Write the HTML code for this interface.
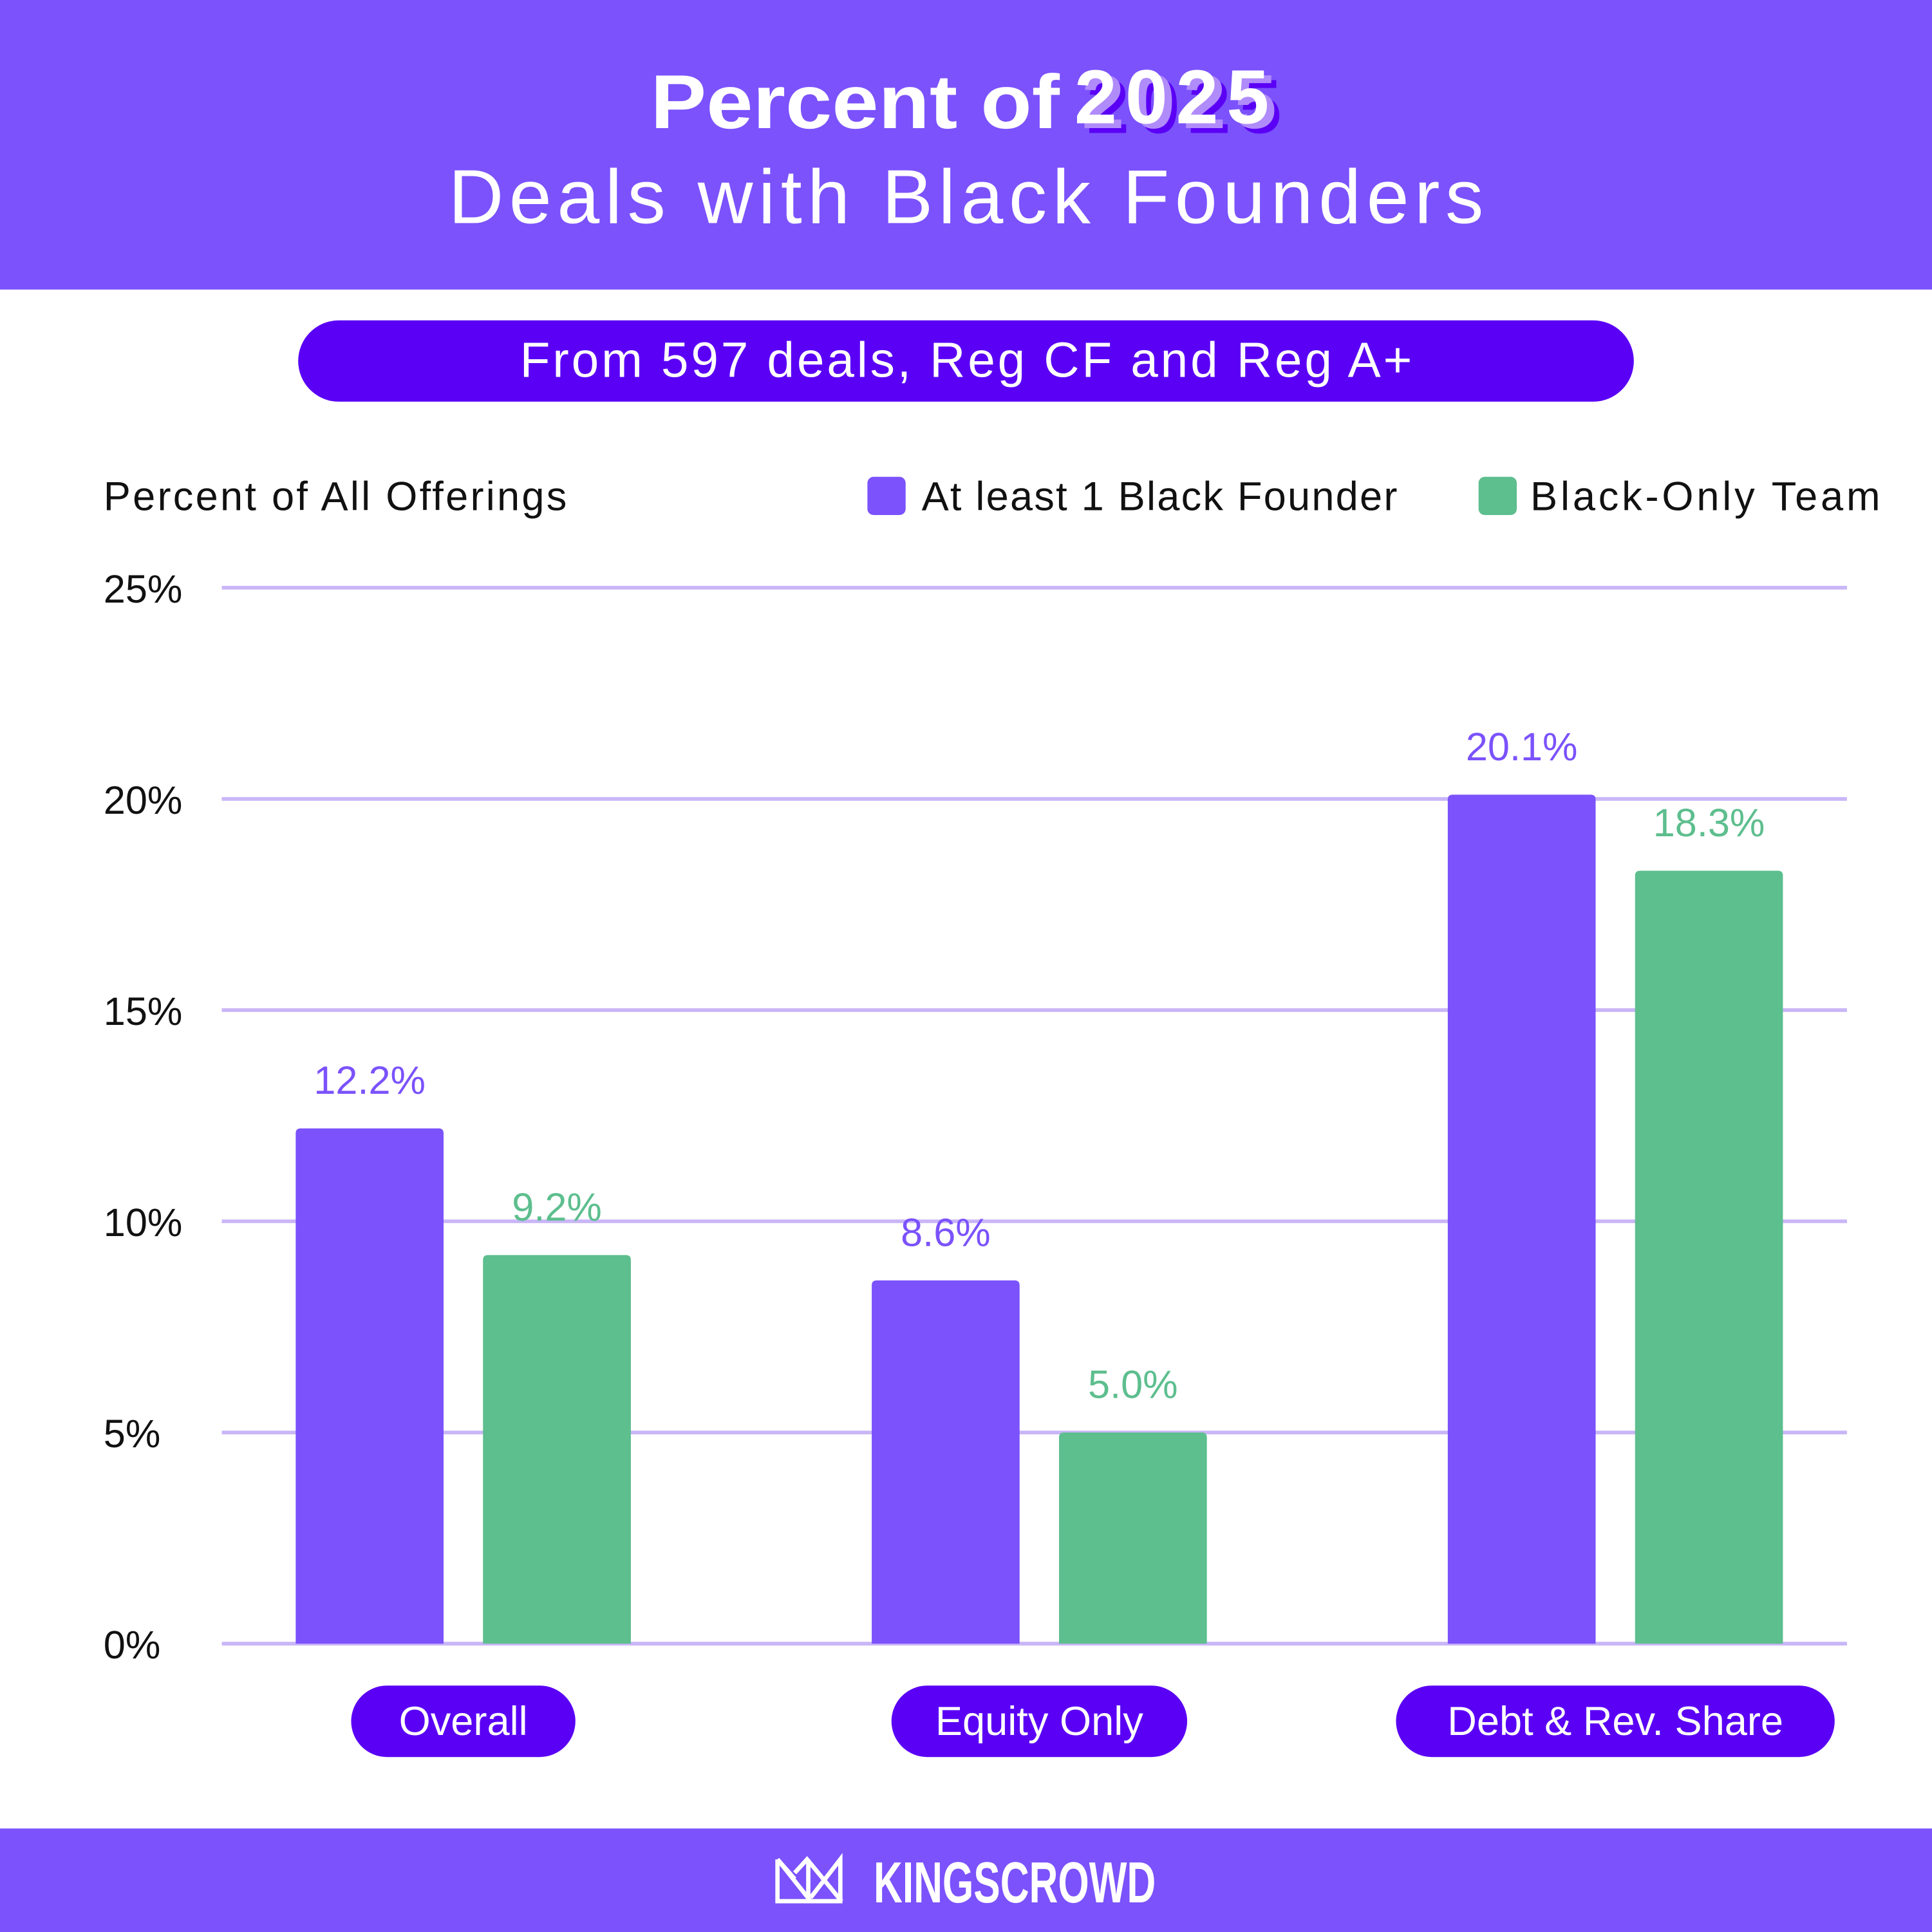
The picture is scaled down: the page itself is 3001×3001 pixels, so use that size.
<!DOCTYPE html>
<html><head><meta charset="utf-8"><style>
html,body{margin:0;padding:0;background:#fff}
svg{display:block}
text{font-family:"Liberation Sans",sans-serif}
</style></head><body>
<svg id="chart" width="3001" height="3001" viewBox="0 0 1568 1568" xmlns="http://www.w3.org/2000/svg">
<rect x="0" y="0" width="1568" height="235" fill="#7B52FC"/>
<g>
<text x="528" y="104" font-size="62" font-weight="bold" fill="#fff" textLength="332" lengthAdjust="spacingAndGlyphs">Percent of</text>
<text x="882" y="108" font-size="62" font-weight="bold" fill="#5A00F5" textLength="158">2025</text>
<text x="878" y="104" font-size="62" font-weight="bold" fill="#B08BFA" textLength="158">2025</text>
<text x="872" y="100" font-size="62" font-weight="bold" fill="#fff" textLength="158">2025</text>
<text x="784" y="181" font-size="62" fill="#fff" text-anchor="middle" textLength="840">Deals with Black Founders</text>
</g>
<rect x="242" y="260" width="1084" height="66" rx="33" fill="#5A00F5"/>
<text x="784" y="306" font-size="40" fill="#fff" text-anchor="middle" textLength="724">From 597 deals, Reg CF and Reg A+</text>
<text x="84" y="414" font-size="33" fill="#111" textLength="376">Percent of All Offerings</text>
<g>
<rect x="704" y="387" width="31" height="31" rx="5" fill="#7B52FC"/>
<text x="748" y="414" font-size="33" fill="#111" textLength="386">At least 1 Black Founder</text>
<rect x="1200" y="387" width="31" height="31" rx="5" fill="#5DBE8E"/>
<text x="1242" y="414" font-size="33" fill="#111" textLength="284">Black-Only Team</text>
</g>
<g id="grid"></g><g id="bars"></g><g id="cats"></g>
<rect x="0" y="1484" width="1568" height="84" fill="#7B52FC"/>
<g fill="none" stroke="#fff" stroke-width="3.5">
<path d="M631 1509 L631 1543 L682 1543 L682 1509 L658 1540 M631 1509 L658 1543 M645 1520 L655 1509 L683 1543 M656 1509 L656 1543 M631 1509 L645 1525"/>
</g>
<text x="709" y="1544" font-size="47" font-weight="bold" fill="#fff" font-family="Liberation Sans Narrow, Liberation Sans, sans-serif" textLength="229" lengthAdjust="spacingAndGlyphs">KINGSCROWD</text>
</svg>
<script>
const categories = ["Overall", "Equity Only", "Debt & Rev. Share"];
const blackFounder = [12.2, 8.6, 20.1];
const blackOnly = [9.2, 5.0, 18.3];
const tickValues = [0, 5, 10, 15, 20, 25];
const tickLabels = ["0%", "5%", "10%", "15%", "20%", "25%"];
const NS = "http://www.w3.org/2000/svg";
const y0 = 1334, yMax = 477, vMax = 25;
function yScale(v){ return y0 - (v / vMax) * (y0 - yMax); }
function groupCenter(i){ return 376 + i * 467.5; }
function mk(tag, attrs, parent, txt){
  const e = document.createElementNS(NS, tag);
  for (const k in attrs) e.setAttribute(k, attrs[k]);
  if (txt !== undefined) e.textContent = txt;
  parent.appendChild(e); return e;
}
const grid = document.getElementById('grid');
tickValues.forEach((t, i) => {
  const l = mk('line', {x1:180, x2:1499, y1:yScale(t), y2:yScale(t), stroke:'#C9B6F7', 'stroke-width':3}, grid);
  
  
  const tx = mk('text', {x:84, y:yScale(t)+12, 'font-size':32, fill:'#111'}, grid, tickLabels[i]);
  
  
});
const bars = document.getElementById('bars');
const cats = document.getElementById('cats');
const pillW = [182, 240, 356];
categories.forEach((c, i) => {
  const cx = groupCenter(i);
  [[blackFounder[i], '#7B52FC', cx - 136, 'bar-black-founder'], [blackOnly[i], '#5DBE8E', cx + 16, 'bar-black-only']].forEach(([v, col, x, nm]) => {
    const top = yScale(v);
    const r = mk('path', {d:`M${x} ${y0} L${x} ${top+4} Q${x} ${top} ${x+4} ${top} L${x+116} ${top} Q${x+120} ${top} ${x+120} ${top+4} L${x+120} ${y0} Z`, fill:col}, bars);
    
    
    const lb = mk('text', {x:x+60, y:top-28, 'font-size':32, fill:col, 'text-anchor':'middle'}, bars, v.toFixed(1) + '%');
    
    
  });
  const w = pillW[i];
  const p = mk('rect', {x:cx - w/2, y:1368, width:w, height:58, rx:29, fill:'#5A00F5'}, cats);
  
  
  const t = mk('text', {x:cx, y:1408, 'font-size':33, fill:'#fff', 'text-anchor':'middle'}, cats, c);
  
  
});
</script>
</body></html>
